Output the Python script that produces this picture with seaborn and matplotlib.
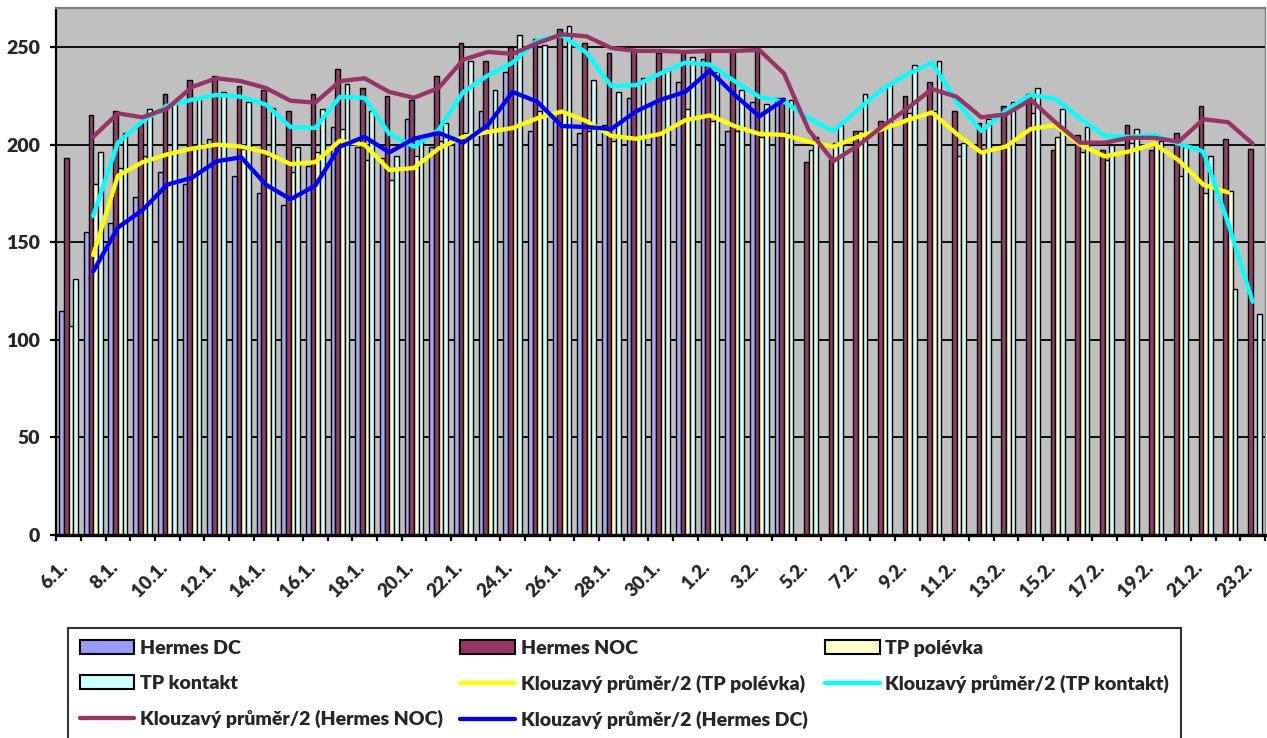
import numpy as np
import pandas as pd
import matplotlib
matplotlib.use("agg")
import matplotlib.pyplot as plt
import matplotlib.transforms as mtransforms
import seaborn as sns
from matplotlib.patches import Patch
from matplotlib.lines import Line2D

# categories: 6.1. - 23.2.
days = [f"{d}.1." for d in range(6, 32)] + [f"{d}.2." for d in range(1, 24)]

hermes_dc = [115, 155, 160, 173, 186, 180, 203, 184, 175, 169,
             189, 209, 199, 193, 213, 199, 203, 217, 237, 207,
             212, 206, 210, 224, 222, 232, 244, 207, 222, 224] + [np.nan] * 19
hermes_noc = [193, 215, 217, 211, 226, 233, 235, 230, 228, 217,
              226, 239, 229, 225, 223, 235, 252, 243, 250, 254,
              259, 252, 247, 249, 247, 248, 248, 248, 249, 224,
              191, 192, 207, 212, 225, 232, 217, 211, 220, 226,
              197, 205, 197, 210, 197, 206, 220, 203, 198]
tp_polevka = [107, 180, 188, 194, 196, 200, 200, 198, 194, 186,
              196, 208, 192, 182, 194, 202, 206, 207, 210, 217,
              217, 207, 202, 204, 207, 218, 212, 207, 204, 206,
              197, 201, 207, 209, 216, 217, 194, 198, 200, 216,
              204, 196, 192, 201, 200, 184, 175, 176, np.nan]
tp_kontakt = [131, 196, 206, 218, 222, 224, 227, 222, 219, 199,
              218, 231, 217, 194, 204, 211, 243, 228, 256, 251,
              261, 233, 227, 234, 239, 245, 237, 228, 221, 223,
              204, 210, 226, 231, 241, 243, 201, 213, 222, 229,
              218, 209, 200, 208, 202, 199, 194, 126, 113]

series_names = ["Hermes DC", "Hermes NOC", "TP polévka", "TP kontakt"]
bar_colors = {"Hermes DC": "#9999FF", "Hermes NOC": "#993366",
              "TP polévka": "#FFFFCC", "TP kontakt": "#CCFFFF"}
line_colors = {"TP polévka": "#FFFF00", "TP kontakt": "#00FFFF",
               "Hermes NOC": "#993366", "Hermes DC": "#0000FF"}

df = pd.DataFrame({"day": days, "Hermes DC": hermes_dc, "Hermes NOC": hermes_noc,
                   "TP polévka": tp_polevka, "TP kontakt": tp_kontakt})
long_df = df.melt(id_vars="day", var_name="series", value_name="value")

sns.set_theme(style="white")
plt.rcParams["font.family"] = ["Lato", "DejaVu Sans"]
WEIGHT = "heavy"

fig = plt.figure(figsize=(12.67, 7.38), dpi=100)
ax = fig.add_axes([56.2 / 1267, 203 / 738, (1265 - 56.2) / 1267, 527 / 738])
ax.set_facecolor("#C0C0C0")

sns.barplot(data=long_df, x="day", y="value", hue="series", hue_order=series_names,
            order=days, palette=bar_colors, width=0.76, errorbar=None,
            edgecolor="black", linewidth=1.0, legend=False, ax=ax, zorder=2)

# moving average trendlines (period 2)
pos = np.arange(len(days))
for name in ["TP polévka", "TP kontakt", "Hermes NOC", "Hermes DC"]:
    ma = df[name].rolling(2).mean()
    ax.plot(pos, ma, color=line_colors[name], linewidth=3.1, zorder=5)

ax.set_xlim(-0.5, len(days) - 0.5)
ax.set_ylim(0, 270)
ax.set_yticks(range(0, 251, 50))
ax.yaxis.grid(True, color="black", linewidth=1.3)
ax.set_axisbelow(True)
ax.set_xlabel("")
ax.set_ylabel("")

ax.set_xticks(pos[::2])
ax.set_xticklabels(days[::2], rotation=45, ha="right", va="top",
                   rotation_mode="anchor", fontsize=13.5, fontweight=WEIGHT)
ax.set_xticks(np.arange(-0.5, len(days), 1), minor=True)
ax.tick_params(axis="x", which="major", length=0, pad=17)
ax.tick_params(axis="x", which="minor", length=4.5, width=1.6, color="black",
               direction="out", bottom=True)
ax.tick_params(axis="y", length=4.5, width=1.6, color="black", direction="out",
               left=True, labelsize=14, pad=7)
for lab in ax.get_yticklabels():
    lab.set_fontweight(WEIGHT)
shift = mtransforms.ScaledTranslation(-9 / 100, 0, fig.dpi_scale_trans)
for lab in ax.get_xticklabels():
    lab.set_transform(lab.get_transform() + shift)

for side in ["left", "bottom"]:
    ax.spines[side].set_color("black")
ax.spines["left"].set_linewidth(1.6)
ax.spines["bottom"].set_linewidth(2.4)
ax.spines["top"].set_color("#808080")
ax.spines["top"].set_linewidth(1.6)
ax.spines["right"].set_color("#808080")
ax.spines["right"].set_linewidth(1.0)

# legend, row-major order as in the original
labels = ["Hermes DC", "Hermes NOC", "TP polévka",
          "TP kontakt", "Klouzavý průměr/2 (TP polévka)", "Klouzavý průměr/2 (TP kontakt)",
          "Klouzavý průměr/2 (Hermes NOC)", "Klouzavý průměr/2 (Hermes DC)"]
handles = [Patch(facecolor=bar_colors[n], edgecolor="black", linewidth=1.5) for n in series_names]
handles += [Line2D([], [], color=line_colors[n], linewidth=3.1)
            for n in ["TP polévka", "TP kontakt", "Hermes NOC", "Hermes DC"]]
order = [0, 3, 6, 1, 4, 7, 2, 5]
leg = fig.legend([handles[i] for i in order], [labels[i] for i in order],
                 loc="upper left", bbox_to_anchor=(68 / 1267, 1 - 628 / 738),
                 ncol=3, frameon=True, fancybox=False, borderaxespad=0,
                 prop={"family": ["Lato", "DejaVu Sans"], "weight": WEIGHT, "size": 14},
                 handlelength=2.8, handleheight=0.72, handletextpad=0.3,
                 labelspacing=0.92, borderpad=0.6, columnspacing=0.9)
leg.get_frame().set_edgecolor("black")
leg.get_frame().set_linewidth(1.5)

fig.savefig("out.png", dpi=100)
